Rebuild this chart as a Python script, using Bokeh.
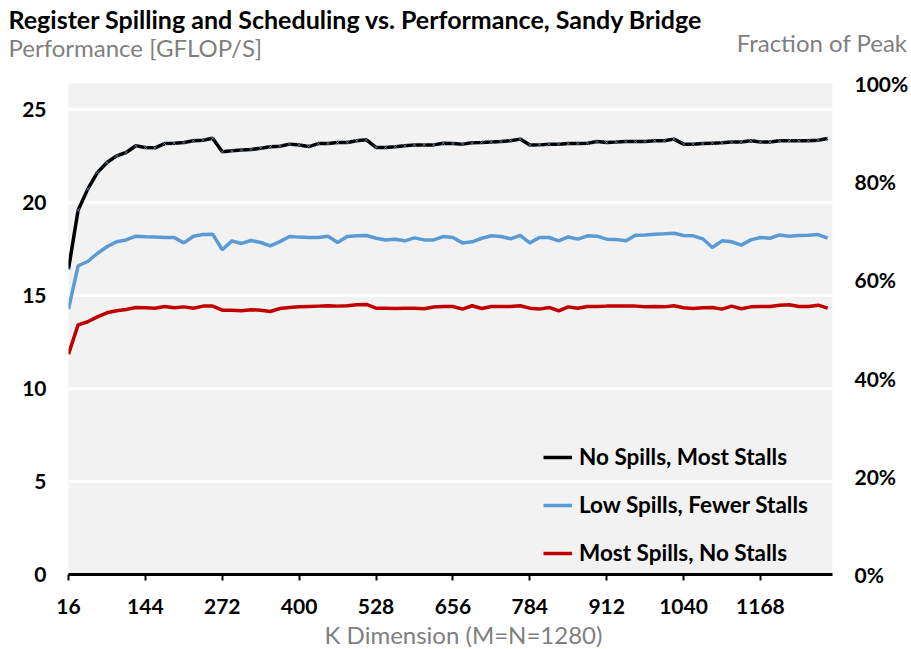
from bokeh.plotting import figure
from bokeh.layouts import column
from bokeh.models import (Range1d, LinearAxis, FixedTicker, NumeralTickFormatter,
                          Legend, LegendItem, ColumnDataSource)
from bokeh.core.properties import value
from bokeh.embed import file_html
from bokeh.resources import INLINE

# ---------------- data ----------------
k_dim = list(range(16, 1281, 16))

no_spills_most_stalls = [
    16.42, 19.59, 20.72, 21.61, 22.15, 22.51, 22.69, 23.05, 22.96, 22.94,
    23.17, 23.19, 23.23, 23.32, 23.35, 23.46, 22.73, 22.78, 22.82, 22.85,
    22.92, 23.00, 23.03, 23.14, 23.09, 23.01, 23.17, 23.17, 23.23, 23.23,
    23.32, 23.37, 22.96, 22.96, 23.00, 23.05, 23.10, 23.10, 23.10, 23.19,
    23.17, 23.14, 23.21, 23.23, 23.26, 23.28, 23.32, 23.41, 23.09, 23.10,
    23.14, 23.14, 23.17, 23.17, 23.19, 23.28, 23.23, 23.25, 23.28, 23.28,
    23.28, 23.32, 23.32, 23.41, 23.14, 23.14, 23.17, 23.19, 23.21, 23.25,
    23.26, 23.32, 23.25, 23.26, 23.32, 23.32, 23.32, 23.32, 23.35, 23.44,
]

low_spills_fewer_stalls = [
    14.27, 16.60, 16.83, 17.26, 17.62, 17.89, 17.99, 18.19, 18.16, 18.14,
    18.12, 18.12, 17.83, 18.19, 18.28, 18.30, 17.46, 17.94, 17.80, 17.96,
    17.85, 17.67, 17.90, 18.17, 18.14, 18.12, 18.12, 18.19, 17.85, 18.17,
    18.21, 18.23, 18.08, 17.99, 18.03, 17.94, 18.10, 17.99, 17.99, 18.17,
    18.12, 17.83, 17.89, 18.08, 18.21, 18.17, 18.05, 18.23, 17.83, 18.12,
    18.12, 17.94, 18.15, 18.03, 18.21, 18.19, 18.03, 18.01, 17.94, 18.24,
    18.26, 18.30, 18.32, 18.35, 18.23, 18.21, 18.05, 17.58, 17.94, 17.89,
    17.71, 17.99, 18.12, 18.08, 18.26, 18.19, 18.23, 18.24, 18.28, 18.08,
]

most_spills_no_stalls = [
    11.85, 13.42, 13.59, 13.85, 14.07, 14.18, 14.25, 14.36, 14.34, 14.32,
    14.41, 14.34, 14.39, 14.32, 14.43, 14.43, 14.21, 14.21, 14.18, 14.24,
    14.21, 14.14, 14.30, 14.36, 14.39, 14.41, 14.43, 14.45, 14.43, 14.45,
    14.50, 14.52, 14.32, 14.32, 14.30, 14.32, 14.32, 14.29, 14.38, 14.41,
    14.41, 14.27, 14.45, 14.30, 14.41, 14.41, 14.41, 14.45, 14.32, 14.27,
    14.36, 14.18, 14.39, 14.32, 14.41, 14.41, 14.43, 14.43, 14.43, 14.43,
    14.39, 14.41, 14.39, 14.45, 14.34, 14.30, 14.34, 14.36, 14.27, 14.43,
    14.29, 14.39, 14.41, 14.41, 14.48, 14.50, 14.41, 14.41, 14.48, 14.32,
]

series_names = ["No Spills, Most Stalls", "Low Spills, Fewer Stalls", "Most Spills, No Stalls"]
x_ticks = [16, 144, 272, 400, 528, 656, 784, 912, 1040, 1168]
y_ticks = [0, 5, 10, 15, 20, 25]
frac_ticks = [0, 0.2, 0.4, 0.6, 0.8, 1.0]
peak_gflops = 26.4

title_text = "Register Spilling and Scheduling vs. Performance, Sandy Bridge"
left_title = "Performance [GFLOP/S]"
right_title = "Fraction of Peak"
x_title = "K Dimension (M=N=1280)"

# ---------------- layout constants ----------------
X_START, X_END = 16, 1288
W = 911
HEAD_H, MAIN_H, FOOT_H = 70, 549, 30
FL, FR, FT, FB = 68, 834, 83, 574      # frame edges in page pixels
FONT = "Lato"
GRAY = "#7f7f7f"


def text_strip(height):
    f = figure(width=W, height=height, x_range=Range1d(0, W),
               y_range=Range1d(height, 0), output_backend="svg",
               toolbar_location=None, x_axis_type=None, y_axis_type=None,
               min_border=0, outline_line_color=None,
               background_fill_color="white", border_fill_color="white")
    f.xgrid.visible = False
    f.ygrid.visible = False
    f.frame_align = False
    return f


# ---------------- header ----------------
head = text_strip(HEAD_H)
head.text(x=[8], y=[18], text=[title_text], text_font=value(FONT),
          text_font_style="bold", text_font_size="25px", text_color="black",
          text_align="left", text_baseline="middle")
head.text(x=[8], y=[47], text=[left_title], text_font=value(FONT),
          text_font_size="24px", text_color=GRAY,
          text_align="left", text_baseline="middle")
head.text(x=[907], y=[42], text=[right_title], text_font=value(FONT),
          text_font_size="24px", text_color=GRAY,
          text_align="right", text_baseline="middle")

# ---------------- main chart ----------------
src = ColumnDataSource(dict(k=k_dim, a=no_spills_most_stalls,
                            b=low_spills_fewer_stalls, c=most_spills_no_stalls))

p = figure(width=W, height=MAIN_H, x_range=Range1d(X_START, X_END),
           y_range=Range1d(0, peak_gflops), output_backend="svg",
           toolbar_location=None,
           min_border_left=FL, min_border_right=W - FR,
           min_border_top=FT - HEAD_H, min_border_bottom=HEAD_H + MAIN_H - FB,
           background_fill_color="#f2f2f2", border_fill_color="white",
           outline_line_color=None)
p.frame_align = False

p.xgrid.visible = False
p.ygrid.ticker = FixedTicker(ticks=y_ticks)
p.ygrid.grid_line_color = "white"
p.ygrid.grid_line_width = 3

la = p.yaxis[0]
la.ticker = FixedTicker(ticks=y_ticks)
la.axis_line_color = None
la.major_tick_line_color = None
la.major_tick_out = 0
la.major_tick_in = 0
la.minor_tick_line_color = None
la.minor_tick_out = 0
la.major_label_standoff = 22
la.major_label_text_font = FONT
la.major_label_text_font_style = "bold"
la.major_label_text_font_size = "21px"
la.major_label_text_color = "black"

p.extra_y_ranges = {"frac": Range1d(0, 1)}
ra = LinearAxis(y_range_name="frac", ticker=FixedTicker(ticks=frac_ticks),
                formatter=NumeralTickFormatter(format="0%"))
ra.axis_line_color = None
ra.major_tick_line_color = None
ra.major_tick_out = 0
ra.major_tick_in = 0
ra.minor_tick_line_color = None
ra.minor_tick_out = 0
ra.major_label_standoff = 22
ra.major_label_text_font = FONT
ra.major_label_text_font_style = "bold"
ra.major_label_text_font_size = "21px"
ra.major_label_text_color = "black"
p.add_layout(ra, "right")

xa = p.xaxis[0]
xa.ticker = FixedTicker(ticks=x_ticks)
xa.axis_line_color = "black"
xa.axis_line_width = 3
xa.major_tick_line_color = "black"
xa.major_tick_line_width = 2
xa.major_tick_out = 6
xa.major_tick_in = 0
xa.minor_tick_line_color = None
xa.major_label_standoff = 18
xa.major_label_text_font = FONT
xa.major_label_text_font_style = "bold"
xa.major_label_text_font_size = "21px"
xa.major_label_text_color = "black"

r_red = p.line("k", "c", source=src, line_color="#c00000", line_width=3.5)
r_blue = p.line("k", "b", source=src, line_color="#5b9bd5", line_width=3.5)
r_black = p.line("k", "a", source=src, line_color="black", line_width=3.5)
p.scatter("k", "a", source=src, marker="x", size=6, line_color="#9dc3e6",
          line_width=1, line_alpha=0.55)

legend = Legend(items=[LegendItem(label=series_names[0], renderers=[r_black]),
                       LegendItem(label=series_names[1], renderers=[r_blue]),
                       LegendItem(label=series_names[2], renderers=[r_red])],
                location=(475, 8), orientation="vertical",
                padding=0, margin=0, spacing=21,
                glyph_width=29, glyph_height=26, label_height=26,
                label_standoff=7,
                label_text_font=FONT, label_text_font_style="bold",
                label_text_font_size="22.5px", label_text_color="black",
                background_fill_alpha=0, border_line_alpha=0)
p.add_layout(legend)

# ---------------- footer ----------------
foot = text_strip(FOOT_H)
foot.text(x=[463], y=[15], text=[x_title], text_font=value(FONT),
          text_font_size="24px", text_color=GRAY,
          text_align="center", text_baseline="middle")

page = column(head, p, foot, spacing=0)
open("out.html", "w").write(file_html(page, INLINE))
